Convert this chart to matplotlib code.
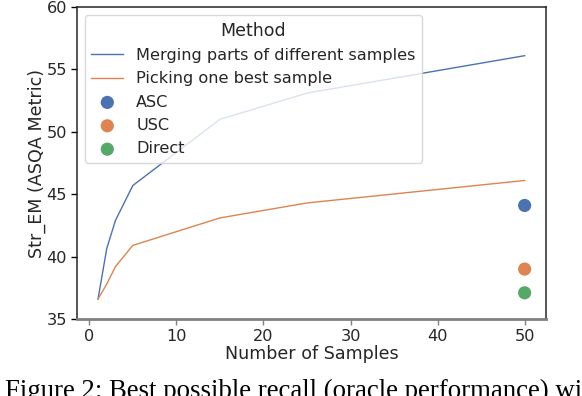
import matplotlib
matplotlib.use("Agg")
import matplotlib.pyplot as plt

# values
samples = [1, 2, 3, 5, 15, 25, 50]
merging = [36.6, 40.65, 42.9, 45.7, 51.0, 53.1, 56.1]
picking = [36.6, 37.8, 39.2, 40.9, 43.1, 44.3, 46.1]
point_x = 50
point_names = ["ASC", "USC", "Direct"]
point_vals = [44.1, 39.0, 37.1]

blue = "#4C72B0"
orange = "#DD8452"
green = "#55A868"
text_col = "#262626"

fig = plt.figure(figsize=(5.82, 3.96), dpi=100)
ax = fig.add_axes([0.1318, 0.1944, 0.8063, 0.7879])

ax.plot(samples, merging, color=blue, lw=1.0, label="Merging parts of different samples")
ax.plot(samples, picking, color=orange, lw=1.0, label="Picking one best sample")
for name, v, c in zip(point_names, point_vals, [blue, orange, green]):
    ax.scatter([point_x], [v], s=90, color=c, edgecolor="none", label=name, zorder=3)

ax.set_ylim(35, 60)
ax.set_yticks([35, 40, 45, 50, 55, 60])
ax.set_xticks([0, 10, 20, 30, 40, 50])

ax.set_xlabel("Number of Samples", fontsize=12.6, color=text_col, labelpad=1)
ax.set_ylabel("Str_EM (ASQA Metric)", fontsize=12.6, color=text_col, labelpad=0.5)
ax.tick_params(axis="both", labelsize=11.6, labelcolor=text_col, length=4, width=1, pad=3)
ax.tick_params(axis="x", color="#808080")

for s in ["left", "top", "right"]:
    ax.spines[s].set_color("#262626")
    ax.spines[s].set_linewidth(1.1)
ax.spines["bottom"].set_color("#808080")
ax.spines["bottom"].set_linewidth(2.0)

leg = ax.legend(title="Method", loc="upper left", fontsize=11.6, title_fontsize=12.5,
                frameon=True, framealpha=0.8, edgecolor="#d0d0d0", fancybox=True,
                labelspacing=0.52, handlelength=2.0, borderaxespad=0.5)
for t in leg.get_texts():
    t.set_color(text_col)
leg.get_title().set_color(text_col)

fig.text(5 / 582, -2.5 / 396, "Figure 2: Best possible recall (oracle performance) with",
         family="Liberation Serif", fontsize=19.3, va="baseline", ha="left", color="black")

fig.savefig("out.png", dpi=100)
